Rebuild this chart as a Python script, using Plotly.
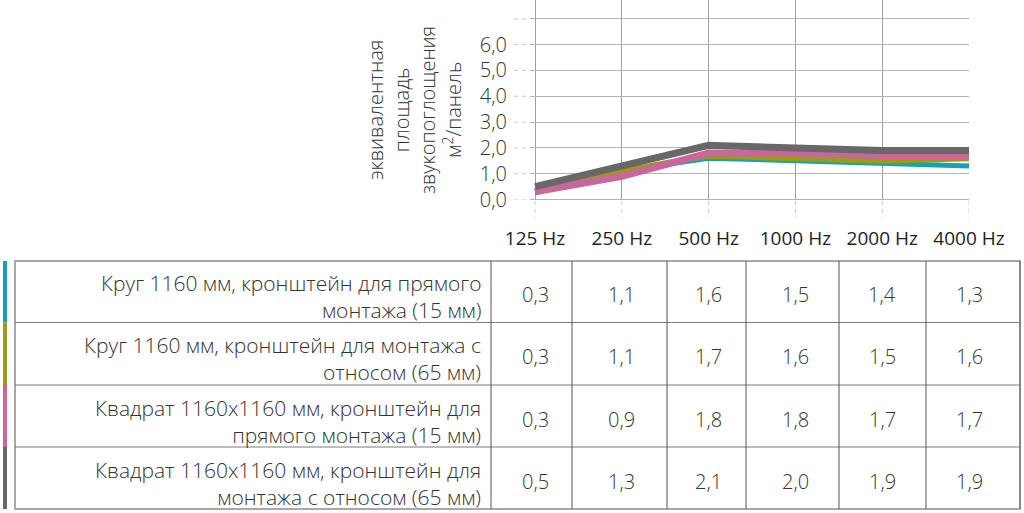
import plotly.graph_objects as go

# ---- data ----
categories = ["125 Hz", "250 Hz", "500 Hz", "1000 Hz", "2000 Hz", "4000 Hz"]
series_names = [
    "Круг 1160 мм, кронштейн для прямого<br>монтажа (15 мм)",
    "Круг 1160 мм, кронштейн для монтажа с<br>относом (65 мм)",
    "Квадрат 1160х1160 мм, кронштейн для<br>прямого монтажа (15 мм)",
    "Квадрат 1160х1160 мм, кронштейн для<br>монтажа с относом (65 мм)",
]
round_direct = [0.3, 1.1, 1.6, 1.5, 1.4, 1.3]
round_offset = [0.3, 1.1, 1.7, 1.6, 1.5, 1.6]
square_direct = [0.3, 0.9, 1.8, 1.8, 1.7, 1.7]
square_offset = [0.5, 1.3, 2.1, 2.0, 1.9, 1.9]
series_values = [round_direct, round_offset, square_direct, square_offset]
series_colors = ["#17a0b6", "#9c9c12", "#c7679b", "#686868"]
line_widths = [5, 6, 7, 7]
y_tick_vals = [0, 1, 2, 3, 4, 5, 6]
y_tick_text = ["0,0", "1,0", "2,0", "3,0", "4,0", "5,0", "6,0"]
y_top_grid = [7]
y_title = "эквивалентная<br>площадь<br>звукопоглощения<br>м<sup>2</sup>/панель"

FONT = "Open Sans"
W, H = 1024, 513


def px(x):
    return x / W


def py(y):
    return 1 - y / H


fig = go.Figure()
for name, vals, col, lw in zip(series_names, series_values, series_colors, line_widths):
    fig.add_trace(go.Scatter(
        x=categories, y=vals, mode="lines", name=name.replace("<br>", " "),
        line=dict(color=col, width=lw), hoverinfo="skip",
    ))

shapes = []
annotations = []

# dashed tick marks left of plot
for v in y_tick_vals + y_top_grid:
    shapes.append(dict(type="line", xref="paper", yref="y", x0=px(514), x1=px(529),
                       y0=v, y1=v, line=dict(color="#c8c8c8", width=1, dash="4px,4px")))
# dashed tick marks below plot
for i in range(len(categories)):
    shapes.append(dict(type="line", xref="x", yref="paper", x0=i, x1=i,
                       y0=py(201), y1=py(218), line=dict(color="#c8c8c8", width=1, dash="4px,4px")))

# y-axis title
annotations.append(dict(text=y_title, xref="paper", yref="paper", x=px(414), y=py(110),
                        xanchor="center", yanchor="middle", textangle=-90, showarrow=False,
                        align="center", font=dict(family=FONT, size=20, color="#333333", weight=300)))

# ---- table ----
row_edges = [261, 322.5, 385, 447, 509]
col_edges = [491, 572, 667, 746, 839, 926, 1020]
tbl_left = 15
bar_x0, bar_x1 = 3, 7

shapes.append(dict(type="rect", xref="paper", yref="paper", x0=px(tbl_left), x1=px(col_edges[-1]),
                   y0=py(row_edges[0]), y1=py(row_edges[-1]), line=dict(color="#a8a8a8", width=2)))
for r in row_edges[1:-1]:
    shapes.append(dict(type="line", xref="paper", yref="paper", x0=px(tbl_left), x1=px(col_edges[-1]),
                       y0=py(r), y1=py(r), line=dict(color="#7a7a7a", width=1)))
for c in col_edges[:-1]:
    shapes.append(dict(type="line", xref="paper", yref="paper", x0=px(c), x1=px(c),
                       y0=py(row_edges[0]), y1=py(row_edges[-1]), line=dict(color="#555555", width=1)))
shapes.append(dict(type="line", xref="paper", yref="paper", x0=px(col_edges[-1]), x1=px(col_edges[-1]),
                   y0=py(row_edges[0]), y1=py(row_edges[-1]), line=dict(color="#666666", width=1)))

for k, (name, vals, col) in enumerate(zip(series_names, series_values, series_colors)):
    top, bot = row_edges[k], row_edges[k + 1]
    mid = (top + bot) / 2
    shapes.append(dict(type="rect", xref="paper", yref="paper", x0=px(bar_x0), x1=px(bar_x1),
                       y0=py(top), y1=py(bot), fillcolor=col, line=dict(width=0)))
    annotations.append(dict(text=name, xref="paper", yref="paper", x=px(483), y=py(mid + 5),
                            xanchor="right", yanchor="middle", align="right", showarrow=False,
                            font=dict(family=FONT, size=21, color="#333333", weight=300)))
    for i, v in enumerate(vals):
        annotations.append(dict(text=f"{v:.1f}".replace(".", ","), xref="x", yref="paper",
                                x=i, y=py(mid + 3), xanchor="center", yanchor="middle",
                                showarrow=False,
                                font=dict(family=FONT, size=20, color="#333333", weight=300)))

fig.update_layout(
    width=W, height=H, margin=dict(l=0, r=0, t=0, b=0, autoexpand=False),
    paper_bgcolor="white", plot_bgcolor="white", showlegend=False,
    shapes=shapes, annotations=annotations,
    xaxis=dict(domain=[px(530), px(969)], range=[-0.058, 5], showgrid=True,
               gridcolor="#a0a0a0", gridwidth=1, showline=False, zeroline=False,
               ticks="", ticklabelstandoff=25, automargin=False,
               tickfont=dict(family=FONT, size=19, color="#1e1e1e", weight=500)),
    yaxis=dict(domain=[py(199.5), 1], range=[0, 7.73], tickvals=y_tick_vals, ticktext=y_tick_text,
               showgrid=True, gridcolor="#b4b4b4", gridwidth=1, zeroline=True,
               zerolinecolor="#b4b4b4", zerolinewidth=1, showline=False, ticks="",
               minor=dict(tickvals=y_top_grid, showgrid=True, gridcolor="#b4b4b4", gridwidth=1, ticks=""),
               ticklabelstandoff=22, automargin=False,
               tickfont=dict(family=FONT, size=20, color="#333333", weight=300)),
)

fig.write_html("out.html", post_script="document.body.style.margin='0';document.body.style.overflow='hidden';")
